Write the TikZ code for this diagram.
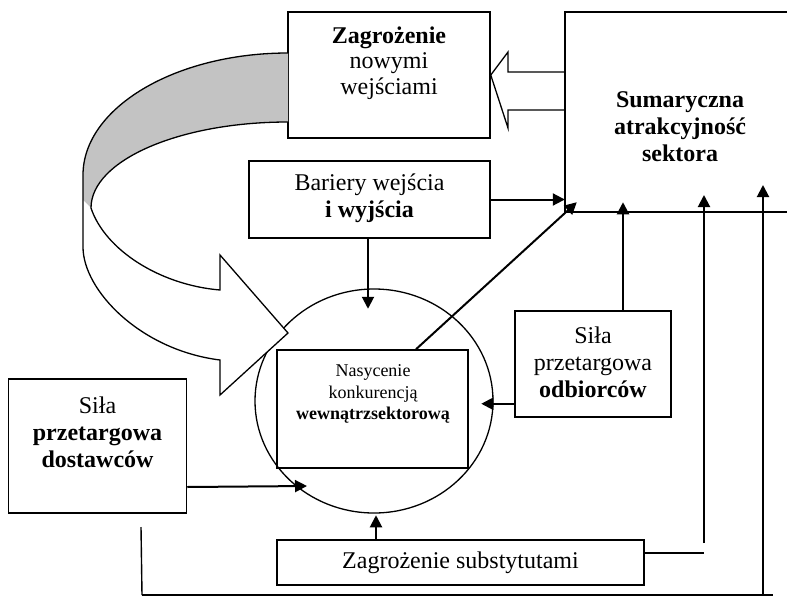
\documentclass[tikz,border=0pt]{standalone}
\usepackage{fontspec}
\setmainfont{Liberation Serif}
\usetikzlibrary{arrows.meta,calc,shapes.geometric}
\definecolor{ribbon}{RGB}{195,195,195}
\begin{document}
\begin{tikzpicture}[x=1pt,y=-1pt,
  box/.style={draw, line width=1.5pt, inner sep=0pt},
  lbl/.style={align=center, inner sep=0pt, font=\fontsize{24}{27}\selectfont},
  small/.style={align=center, inner sep=0pt, font=\fontsize{18}{21.5}\selectfont},
  arr/.style={line width=2pt, -{Triangle[width=12pt,length=12pt]}},
  plain/.style={line width=1.6pt}]
\useasboundingbox (0,0) rectangle (787,600);

% boxes
\node[box, minimum width=202, minimum height=126] (zag) at (389,75) {};
\node[box, minimum width=241, minimum height=77] (bar) at (369.5,199.5) {};
\node[inner sep=0pt, minimum width=222, minimum height=200] (sum) at (676,112) {};
\draw[line width=1.5pt] (sum.north east) -- (sum.north west) -- (sum.south west) -- (sum.south east);
\node[ellipse, draw, line width=1.3pt, inner sep=0pt, minimum width=238, minimum height=224] (circ) at (374,401) {};
\node[box, minimum width=191, minimum height=118] (inner) at (372.5,409) {};
\node[box, minimum width=156, minimum height=106] (odb) at (593,364) {};
\node[box, minimum width=178, minimum height=134] (dost) at (97.5,446) {};
\node[box, minimum width=367, minimum height=45] (subs) at (460.5,562.5) {};

% ribbon arrow running round from the entry threat to the rivalry circle
\fill[ribbon] (288,53) .. controls (175,53) and (83,108) .. (83,175) -- (83,200) -- (91,208)
  .. controls (91,160.5) and (179,122) .. (288,122) -- cycle;
\fill[white] (91,208) .. controls (105,250) and (160,285) .. (220,290) -- (220,255) -- (288,333)
  -- (220,395) -- (220,360) .. controls (140,350) and (83,290) .. (83,247) -- (83,200) -- cycle;
\draw[line width=1.3pt, line join=miter] (288,53) .. controls (175,53) and (83,108) .. (83,175) -- (83,247)
  .. controls (83,290) and (140,350) .. (220,360) -- (220,395) -- (288,333) -- (220,255) -- (220,290)
  .. controls (160,285) and (105,250) .. (91,208) .. controls (91,160.5) and (179,122) .. (288,122);

% hollow arrow from the attractiveness box to the entry threat
\draw[line width=1.3pt] ($(sum.west)+(0,-40)$) -- (508,72) -- (508,52) -- (zag.east) -- (508,128) -- (508,110) -- ($(sum.west)+(0,-2)$);

% texts
\node[lbl, font=\fontsize{24}{25.5}\selectfont] (zagtxt) at (389,63) {\textbf{Zagrożenie}\\nowymi\\wejściami};
\node[lbl, font=\bfseries\fontsize{24}{27}\selectfont] (sumtxt) at (680,127) {Sumaryczna\\atrakcyjność\\sektora};
\node[lbl] (bartxt) at (369.5,198) {Bariery wejścia\\\textbf{i wyjścia}};
\node[small] (innertxt) at (373,394) {Nasycenie\\konkurencją\\\textbf{wewnątrzsektorową}};
\node[lbl] (odbtxt) at (593,362) {Siła\\przetargowa\\\textbf{odbiorców}};
\node[lbl] (dosttxt) at (97.5,432) {Siła\\\textbf{przetargowa}\\\textbf{dostawców}};
\node[lbl] (substxt) at (460.5,563) {Zagrożenie substytutami};

% free ends of the feedback lines
\coordinate (sumtip) at ($(sum.south west)+(12,-10)$);
\coordinate (r1low) at (704,543);
\coordinate (r1top) at (704,195);
\coordinate (r2low) at (763,595);
\coordinate (r2top) at (763,185);
\coordinate (bl) at (142,595);
\coordinate (br) at (773,595);
\coordinate (lvtop) at (141,527);
\coordinate (subsend) at (704,553);

% connectors
\draw[arr] (bar.east) -- (bar.east -| sum.west);
\draw[arr] ($(bar.south)+(-1.5,0)$) -- ++(0,70);
\draw[arr] ($(inner.north)+(43.5,0)$) -- (sumtip);
\draw[arr] ($(odb.south west)+(0,-14)$) -- ++(-33,0);
\draw[arr] ($(odb.north)+(30,0)$) -- ++(0,-108);
\draw[arr] ($(subs.north)+(-84.5,0)$) -- ++(0,-24);
\draw[arr] ($(dost.east)+(0,41)$) -- ($(circ.center)+(-67,85)$);
\draw[plain] ($(subs.east)+(0,-9.5)$) -- (subsend);
\draw[arr] (r1low) -- (r1top);
\draw[arr] (r2low) -- (r2top);
\draw[plain] (bl) -- (br);
\draw[line width=1.4pt] (lvtop) -- (bl);
\end{tikzpicture}
\end{document}
